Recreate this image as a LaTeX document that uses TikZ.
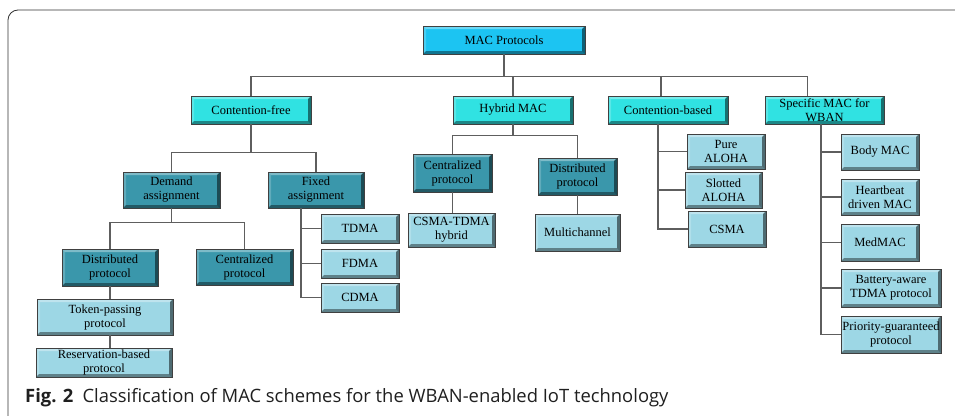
\documentclass[tikz,border=0pt]{standalone}
\usepackage{fontspec}
\setmainfont{Liberation Serif}
\newfontfamily\capfont{Open Sans}
\usetikzlibrary{calc}

\definecolor{topblue}{HTML}{1CC4F2}
\definecolor{cyanbox}{HTML}{30E2E2}
\definecolor{tealbox}{HTML}{3A97AB}
\definecolor{leafbox}{HTML}{9DD7E5}
\definecolor{wire}{HTML}{5E5E5E}

%bevelled button look of every box
\newcommand{\bevel}{%
	\fill[white, opacity=0.35] (path picture bounding box.north west) -- (path picture bounding box.north east)
		-- ([shift={(-3pt,-3pt)}]path picture bounding box.north east) -- ([shift={(3pt,-3pt)}]path picture bounding box.north west) -- cycle;
	\fill[white, opacity=0.2] (path picture bounding box.north west) -- (path picture bounding box.south west)
		-- ([shift={(3pt,3pt)}]path picture bounding box.south west) -- ([shift={(3pt,-3pt)}]path picture bounding box.north west) -- cycle;
	\fill[black, opacity=0.4] (path picture bounding box.south west) -- (path picture bounding box.south east)
		-- ([shift={(-3pt,3pt)}]path picture bounding box.south east) -- ([shift={(3pt,3pt)}]path picture bounding box.south west) -- cycle;
	\fill[black, opacity=0.5] (path picture bounding box.north east) -- (path picture bounding box.south east)
		-- ([shift={(-3pt,3pt)}]path picture bounding box.south east) -- ([shift={(-3pt,-3pt)}]path picture bounding box.north east) -- cycle;
}

\tikzset{
	box/.style={draw=black!75, line width=0.7pt, inner sep=1pt, align=center,
		font=\fontsize{12.5}{14}\selectfont, text=black, path picture={\bevel}},
	rootbox/.style={box, fill=topblue},
	firstbox/.style={box, fill=cyanbox},
	secondbox/.style={box, fill=tealbox},
	leaf/.style={box, fill=leafbox},
	wires/.style={draw=wire, line width=1.2pt}
}

\begin{document}
\begin{tikzpicture}[x=1pt, y=-1pt]
	\useasboundingbox (0,0) rectangle (955,415);

	%frame round the figure
	\draw[line width=0.8pt, black!80, rounded corners=10pt] (8,416) -- (8,10) -- (960,10);

	%root and first level
	\node[rootbox, minimum width=162pt, minimum height=28pt] (mac) at (504,40) {MAC Protocols};
	\node[firstbox, minimum width=120pt, minimum height=28pt] (free) at (251,110) {Contention-free};
	\node[firstbox, minimum width=120pt, minimum height=28pt] (hybrid) at (513,110) {Hybrid MAC};
	\node[firstbox, minimum width=120pt, minimum height=28pt] (based) at (668,110) {Contention-based};
	\node[firstbox, minimum width=119pt, minimum height=28pt] (wban) at (824.5,110) {Specific MAC for\\WBAN};

	%contention-free branch
	\node[secondbox, minimum width=97pt, minimum height=36pt] (demand) at (171.5,190) {Demand\\assignment};
	\node[secondbox, minimum width=96pt, minimum height=36pt] (fixed) at (316,190) {Fixed\\assignment};
	\node[secondbox, minimum width=96pt, minimum height=37pt] (distA) at (110,267.5) {Distributed\\protocol};
	\node[secondbox, minimum width=97pt, minimum height=36pt] (centA) at (244.5,267) {Centralized\\protocol};
	\node[leaf, minimum width=136pt, minimum height=36pt] (token) at (105,317) {Token-passing\\protocol};
	\node[leaf, minimum width=136pt, minimum height=29pt] (reserv) at (104,362.5) {Reservation-based\\protocol};
	\node[leaf, minimum width=78pt, minimum height=29pt] (tdma) at (360,228.5) {TDMA};
	\node[leaf, minimum width=78pt, minimum height=29pt] (fdma) at (360,263.5) {FDMA};
	\node[leaf, minimum width=78pt, minimum height=29pt] (cdma) at (360,297.5) {CDMA};

	%hybrid branch
	\node[secondbox, minimum width=79pt, minimum height=38pt] (centB) at (452.5,173) {Centralized\\protocol};
	\node[secondbox, minimum width=79pt, minimum height=37pt] (distB) at (577.5,176.5) {Distributed\\protocol};
	\node[leaf, minimum width=87pt, minimum height=34pt] (csmatdma) at (451.5,230) {CSMA-TDMA\\hybrid};
	\node[leaf, minimum width=85pt, minimum height=37pt] (multi) at (577.5,232.5) {Multichannel};

	%contention-based branch
	\node[leaf, minimum width=78pt, minimum height=35pt] (pure) at (726,151.5) {Pure\\ALOHA};
	\node[leaf, minimum width=77pt, minimum height=36pt] (slotted) at (723.5,190) {Slotted\\ALOHA};
	\node[leaf, minimum width=78pt, minimum height=36pt] (csma) at (727,229) {CSMA};

	%WBAN branch
	\node[leaf, minimum width=78pt, minimum height=36pt] (body) at (880,152) {Body MAC};
	\node[leaf, minimum width=78pt, minimum height=36pt] (heart) at (880,197) {Heartbeat\\driven MAC};
	\node[leaf, minimum width=78pt, minimum height=37pt] (med) at (880,242.5) {MedMAC};
	\node[leaf, minimum width=100pt, minimum height=38pt] (battery) at (891,288) {Battery-aware\\TDMA protocol};
	\node[leaf, minimum width=100pt, minimum height=37pt] (priority) at (891,334.5) {Priority-guaranteed\\protocol};

	%connectors
	\draw[wires] (mac.south) -- ++(0,22) -| (free.north);
	\draw[wires] (mac.south) -- ++(0,22) -| (hybrid.north);
	\draw[wires] (mac.south) -- ++(0,22) -| ([xshift=-7pt]based.north);
	\draw[wires] (mac.south) -- ++(0,22) -| ([xshift=-17pt]wban.north);

	\draw[wires] (free.south) -- ++(0,28) -| (demand.north);
	\draw[wires] (free.south) -- ++(0,28) -| (fixed.north);
	\draw[wires] (demand.south) -- ++(0,14) -| (distA.north);
	\draw[wires] (demand.south) -- ++(0,14) -| (centA.north);
	\draw[wires] (distA.south) -- (distA.south |- token.north);
	\draw[wires] (token.south -| distA.south) -- (reserv.north -| distA.south);
	\draw[wires] ([xshift=-15pt]fixed.south) |- (tdma.west);
	\draw[wires] ([xshift=-15pt]fixed.south) |- (fdma.west);
	\draw[wires] ([xshift=-15pt]fixed.south) |- (cdma.west);

	\draw[wires] (hybrid.south) -- ++(0,11) -| (centB.north);
	\draw[wires] (hybrid.south) -- ++(0,11) -| (distB.north);
	\draw[wires] (centB.south) -- (centB.south |- csmatdma.north);
	\draw[wires] (distB.south) -- (distB.south |- multi.north);

	\draw[wires] ([xshift=-10pt]based.south) |- (pure.west);
	\draw[wires] ([xshift=-10pt]based.south) |- (slotted.west);
	\draw[wires] ([xshift=-10pt]based.south) |- (csma.west);

	\draw[wires] ([xshift=-3.5pt]wban.south) |- (body.west);
	\draw[wires] ([xshift=-3.5pt]wban.south) |- (heart.west);
	\draw[wires] ([xshift=-3.5pt]wban.south) |- (med.west);
	\draw[wires] ([xshift=-3.5pt]wban.south) |- (battery.west);
	\draw[wires] ([xshift=-3.5pt]wban.south) |- (priority.west);

	%caption
	\node[anchor=base west, inner sep=0pt, text=black!88, font=\capfont\fontsize{18.4}{20}\selectfont] (caption) at (25,402)
		{\textbf{Fig. 2}\enspace Classification of MAC schemes for the WBAN-enabled IoT technology};
\end{tikzpicture}
\end{document}
